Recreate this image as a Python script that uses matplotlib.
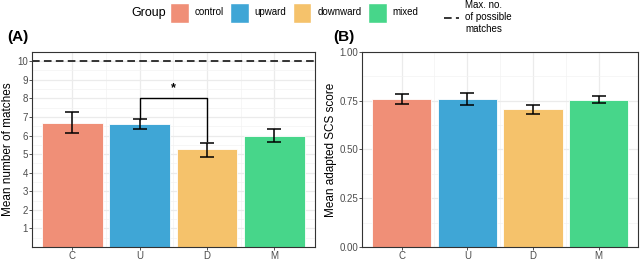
import numpy as np
import matplotlib
matplotlib.use("Agg")
import matplotlib.pyplot as plt
from matplotlib.patches import Patch
from matplotlib.lines import Line2D

# data
cats = ['C', 'U', 'D', 'M']
groups = ['control', 'upward', 'downward', 'mixed']
colors = ['#F08F77', '#3FA6D6', '#F5C26B', '#47D68A']

matches_mean = [6.70, 6.62, 5.25, 6.00]
matches_lo = [6.15, 6.35, 4.87, 5.65]
matches_hi = [7.25, 6.87, 5.62, 6.33]
max_matches = 10

scs_mean = [0.760, 0.757, 0.705, 0.755]
scs_lo = [0.735, 0.727, 0.683, 0.737]
scs_hi = [0.785, 0.787, 0.728, 0.773]

plt.rcParams['font.family'] = 'Liberation Sans'

fig = plt.figure(figsize=(6.4, 2.62), dpi=100)
axA = fig.add_axes([0.050, 0.057, 0.442, 0.745])
axB = fig.add_axes([0.566, 0.057, 0.431, 0.745])

x = np.arange(1, len(cats) + 1)


def style(ax):
    ax.set_axisbelow(True)
    ax.grid(True, which='major', color='#EBEBEB', lw=0.9)
    ax.grid(True, which='minor', color='#F3F3F3', lw=0.5)
    for s in ax.spines.values():
        s.set_color('#333333')
        s.set_linewidth(0.8)
    ax.tick_params(axis='both', which='major', labelsize=7, colors='#333333',
                   length=2, width=0.6, pad=1, labelcolor='#4D4D4D')
    ax.tick_params(axis='both', which='minor', length=0)
    ax.set_xlim(0.4, 4.6)
    ax.set_xticks(x)
    ax.set_xticklabels(cats)


def bars(ax, mean, lo, hi):
    ax.bar(x, mean, width=0.9, color=colors, edgecolor='white', linewidth=0.6)
    mean = np.array(mean)
    yerr = [mean - np.array(lo), np.array(hi) - mean]
    ax.errorbar(x, mean, yerr=yerr, fmt='none', ecolor='black', elinewidth=1.1,
                capsize=4.7, capthick=1.1)


# panel A
style(axA)
bars(axA, matches_mean, matches_lo, matches_hi)
axA.axhline(max_matches, color='black', lw=1.1, ls=(0, (5, 2.8)))
axA.set_ylim(0, 10.5)
axA.set_yticks(range(1, 11))
axA.set_yticks(np.arange(0.5, 10.5, 1), minor=True)
axA.set_xticks([0.5 + i for i in range(1, 4)], minor=True)
axA.set_ylabel('Mean number of matches', fontsize=8.5, labelpad=2)
# significance bracket between U and D
axA.plot([2, 2, 3, 3], [6.9, 8.0, 8.0, 5.7], color='black', lw=1.0)
axA.text(2.5, 8.25, '*', ha='center', va='bottom', fontsize=9, fontweight='bold')

# panel B
style(axB)
bars(axB, scs_mean, scs_lo, scs_hi)
axB.set_ylim(0, 1.0)
axB.set_yticks([0, 0.25, 0.5, 0.75, 1.0])
axB.set_yticklabels(['0.00', '0.25', '0.50', '0.75', '1.00'])
axB.set_yticks([0.125, 0.375, 0.625, 0.875], minor=True)
axB.set_xticks([0.5 + i for i in range(1, 4)], minor=True)
axB.set_ylabel('Mean adapted SCS score', fontsize=8.5, labelpad=2)

fig.text(0.012, 0.860, '(A)', fontsize=11, fontweight='bold', va='center')
fig.text(0.520, 0.860, '(B)', fontsize=11, fontweight='bold', va='center')

# legend
fig.text(0.205, 0.952, 'Group', fontsize=9, va='center')
handles = [Patch(facecolor=c, edgecolor='white') for c in colors]
fig.legend(handles, groups, loc='center left', bbox_to_anchor=(0.265, 0.952),
           ncol=4, frameon=False, fontsize=7, handlelength=1.95, handleheight=2.8,
           columnspacing=0.62, handletextpad=0.62, borderpad=0, borderaxespad=0)
fig.legend([Line2D([0], [0], color='black', lw=1.1, ls=(0, (5, 2.8)))],
           ['Max. no.\nof possible\nmatches'], loc='center left',
           bbox_to_anchor=(0.693, 0.935), frameon=False, fontsize=7,
           handlelength=1.6, handletextpad=0.6, borderpad=0, borderaxespad=0)

fig.savefig('out.png', dpi=100)
